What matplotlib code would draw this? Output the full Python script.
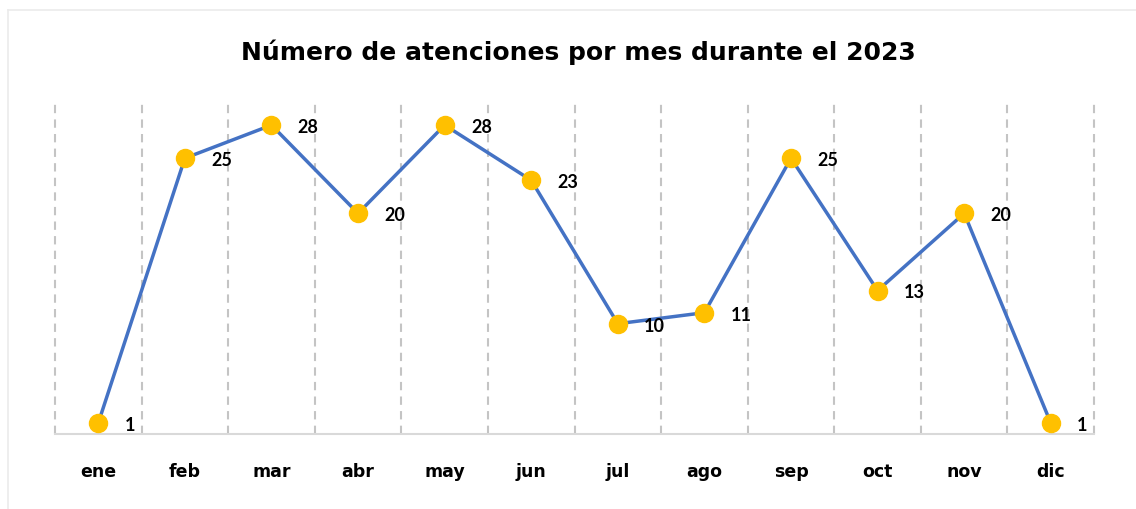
import matplotlib.pyplot as plt
from matplotlib.lines import Line2D

months = ['ene', 'feb', 'mar', 'abr', 'may', 'jun', 'jul', 'ago', 'sep', 'oct', 'nov', 'dic']
atenciones = [1, 25, 28, 20, 28, 23, 10, 11, 25, 13, 20, 1]

plt.rcParams['font.family'] = ['Lato', 'DejaVu Sans']

fig = plt.figure(figsize=(11.36, 5.1), dpi=100)
ax = fig.add_axes([0.0484, 0.147, 0.9147, 0.649])

x = range(len(months))
ax.plot(x, atenciones, color='#4472C4', linewidth=2.5, marker='o',
        markersize=13, markerfacecolor='#FFC000', markeredgecolor='#FFC000', zorder=3)

for i, v in enumerate(atenciones):
    ax.annotate(str(v), (i, v), xytext=(19, -1), textcoords='offset points',
                ha='left', va='center', fontsize=13, fontweight='bold', zorder=4)

ax.set_xlim(-0.5, len(months) - 0.5)
ax.set_ylim(0, 30)

# dashed separators between categories
for b in [i - 0.5 for i in range(len(months) + 1)]:
    ax.axvline(b, color='#C4C4C4', linestyle=(0, (4, 3)), linewidth=1.5, zorder=1, clip_on=False)

for s in ['top', 'right', 'left']:
    ax.spines[s].set_visible(False)
ax.spines['bottom'].set_color('#D9D9D9')
ax.spines['bottom'].set_linewidth(1.5)

ax.set_yticks([])
ax.set_xticks(list(x))
ax.set_xticklabels(months, fontsize=12.5, fontweight='bold', family='DejaVu Sans')
ax.tick_params(axis='x', length=0, pad=20)

fig.text(0.509, 0.897, 'Número de atenciones por mes durante el 2023',
         ha='center', va='center', fontsize=18, fontweight='bold', family='DejaVu Sans')

# light frame of the chart area (top and left visible)
fig.add_artist(Line2D([8 / 1136, 1], [1 - 11 / 510, 1 - 11 / 510], color='#EBEBEB', linewidth=1.2))
fig.add_artist(Line2D([8 / 1136, 8 / 1136], [0, 1 - 11 / 510], color='#EBEBEB', linewidth=1.2))

fig.savefig('out.png', dpi=100)
